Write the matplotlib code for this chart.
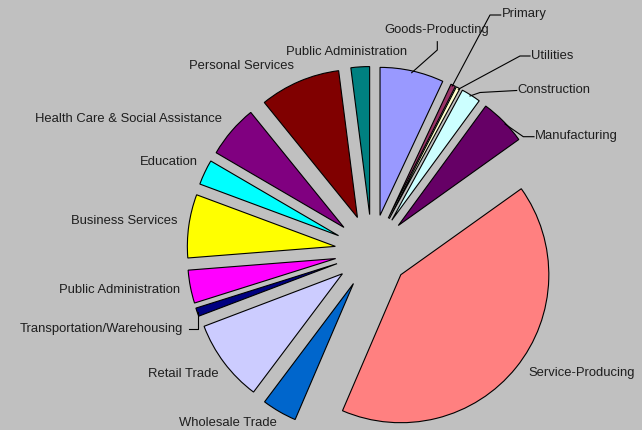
import matplotlib.pyplot as plt

# slice labels, clockwise from 12 o'clock
labels = ['Goods-Producting', 'Primary', 'Utilities', 'Construction', 'Manufacturing',
          'Service-Producing', 'Wholesale Trade', 'Retail Trade', 'Transportation/Warehousing',
          'Public Administration', 'Business Services', 'Education',
          'Health Care & Social Assistance', 'Personal Services', 'Public Administration']
# share of total (%)
values = [6.97, 0.53, 0.42, 2.14, 5.08,
          41.33, 3.81, 8.97, 0.92,
          3.61, 6.92, 2.75,
          5.75, 8.81, 2.03]
colors = ['#9999FF', '#993366', '#FFFFCC', '#CCFFFF', '#660066',
          '#FF8080', '#0066CC', '#CCCCFF', '#000080',
          '#FF00FF', '#FFFF00', '#00FFFF',
          '#800080', '#800000', '#008080']

W, H = 642, 430
cx, cy, R = 372, 251.5, 148  # pie centre / radius in pixels

fig = plt.figure(figsize=(W / 100, H / 100), dpi=100)
fig.patch.set_facecolor('#C0C0C0')
ax = fig.add_axes([0, 0, 1, 1])
ax.set_facecolor('#C0C0C0')

ax.pie(values, colors=colors, startangle=90, counterclock=False,
       explode=[0.25] * len(values),
       wedgeprops=dict(edgecolor='black', linewidth=0.8))
ax.set_aspect('auto')
ax.set_xlim(-cx / R, (W - cx) / R)
ax.set_ylim(-(H - cy) / R, cy / R)
ax.axis('off')


def f(px, py):
    return px / W, 1 - py / H


# label text positions (left x, centre y) in pixels
label_pos = [(384, 30), (502, 14), (531, 56), (517, 90), (535, 136),
             (528, 373), (179, 423), (148, 374), (20, 329),
             (59, 290), (71, 221), (140, 162),
             (35, 119), (189, 66), (286, 52)]
txt_color = '#1E1E1E'
for lab, (px, py) in zip(labels, label_pos):
    x, y = f(px, py)
    fig.text(x, y, lab, ha='left', va='center', fontsize=9.4,
             family='Liberation Sans', color=txt_color)

# leader lines
leaders = [
    [(411.7, 72.7), (437.3, 50), (437.3, 41.7)],
    [(452.3, 86), (490, 15), (500.7, 15)],
    [(458.3, 89.3), (520, 56), (530, 56)],
    [(470, 96), (480, 92.5), (516.7, 90.5)],
    [(505, 124), (523.3, 136.7), (534, 136.7)],
    [(198.3, 311.7), (198.3, 329.3), (189, 329.3)],
]
for pts in leaders:
    xs = [f(p[0], p[1])[0] for p in pts]
    ys = [f(p[0], p[1])[1] for p in pts]
    fig.add_artist(plt.Line2D(xs, ys, color='black', linewidth=0.8,
                              transform=fig.transFigure))

plt.savefig('out.png', facecolor=fig.get_facecolor())
